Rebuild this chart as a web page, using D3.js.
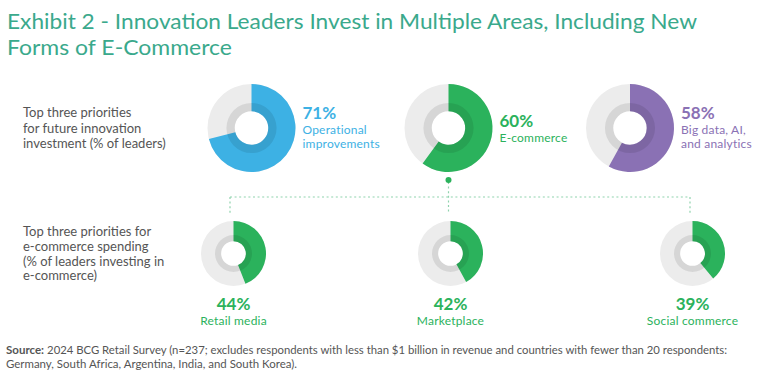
<!DOCTYPE html>
<html>
<head>
<meta charset="utf-8">
<script src="https://cdn.jsdelivr.net/npm/d3@7"></script>
<style>
  html, body { margin: 0; padding: 0; background: #fff; }
  svg { display: block; }
</style>
</head>
<body>
<svg id="chart" width="768" height="381"></svg>
<script>
// ---------- data ----------
const titleLines = [
  "Exhibit 2 - Innovation Leaders Invest in Multiple Areas, Including New",
  "Forms of E-Commerce"
];
const topRowLabel = ["Top three priorities", "for future innovation", "investment (% of leaders)"];
const topCategories = ["Operational improvements", "E-commerce", "Big data, AI, and analytics"];
const topLabelLines = [["Operational", "improvements"], ["E-commerce"], ["Big data, AI,", "and analytics"]];
const topValues = [71, 60, 58];
const topColors = ["#3db1e4", "#2bb25c", "#8a71b4"];

const bottomRowLabel = ["Top three priorities for", "e-commerce spending", "(% of leaders investing in", "e-commerce)"];
const bottomCategories = ["Retail media", "Marketplace", "Social commerce"];
const bottomValues = [44, 42, 39];
const bottomColor = "#2bb25c";

const sourceBold = "Source:";
const sourceLines = [
  "2024 BCG Retail Survey (n=237; excludes respondents with less than $1 billion in revenue and countries with fewer than 20 respondents:",
  "Germany, South Africa, Argentina, India, and South Korea)."
];

// ---------- layout ----------
const FONT = "Lato, 'Noto Sans', sans-serif";
const svg = d3.select("#chart");

const topX = d3.scaleOrdinal().domain(topCategories).range([251.5, 448.5, 630]);
const bottomX = d3.scaleOrdinal().domain(bottomCategories).range([233.5, 450.5, 692.5]);
const topCY = 128, topR = 44;
const botCY = 253.5, botR = 32.5;
const pct = d3.scaleLinear().domain([0, 100]).range([0, 2 * Math.PI]);

// title
svg.append("g").selectAll("text").data(titleLines).join("text")
  .attr("x", 7).attr("y", (d, i) => 29 + i * 26)
  .attr("font-family", FONT).attr("font-size", 22).attr("fill", "#3aa98c")
  .attr("textLength", (d, i) => i === 0 ? 690 : 225)
  .attr("lengthAdjust", "spacingAndGlyphs")
  .text(d => d);

// row labels
svg.append("g").selectAll("text").data(topRowLabel).join("text")
  .attr("x", 23).attr("y", (d, i) => 117 + i * 15.5)
  .attr("font-family", FONT).attr("font-size", 13).attr("fill", "#555")
  .text(d => d);
svg.append("g").selectAll("text").data(bottomRowLabel).join("text")
  .attr("x", 23).attr("y", (d, i) => 236 + i * 14.8)
  .attr("font-family", FONT).attr("font-size", 13).attr("fill", "#555")
  .text(d => d);

function donut(g, value, color, R) {
  const hole = R * 0.38, ring = R * 0.57;
  g.append("path").attr("d", d3.arc()({innerRadius: hole, outerRadius: R, startAngle: 0, endAngle: 2 * Math.PI}))
    .attr("fill", "#ececec");
  g.append("path").attr("d", d3.arc()({innerRadius: hole, outerRadius: R, startAngle: 0, endAngle: pct(value)}))
    .attr("fill", color);
  g.append("path").attr("d", d3.arc()({innerRadius: hole, outerRadius: ring, startAngle: 0, endAngle: 2 * Math.PI}))
    .attr("fill", "#000").attr("fill-opacity", 0.09);
}

// top donuts
topCategories.forEach((c, i) => {
  const g = svg.append("g").attr("transform", `translate(${topX(c)},${topCY})`);
  donut(g, topValues[i], topColors[i], topR);
  const lines = topLabelLines[i];
  const x0 = topX(c) + topR + 7;
  const pctY = lines.length === 2 ? 119 : 127;
  svg.append("text").attr("x", x0).attr("y", pctY)
    .attr("font-family", FONT).attr("font-size", 17).attr("font-weight", 700)
    .attr("fill", topColors[i]).text(topValues[i] + "%");
  lines.forEach((l, j) => {
    svg.append("text").attr("x", x0).attr("y", pctY + 15 + j * 14)
      .attr("font-family", FONT).attr("font-size", 12).attr("fill", topColors[i])
      .attr("letter-spacing", 0.2)
      .text(l);
  });
});

// connectors
const conn = svg.append("g").attr("stroke", "#8fd3ad").attr("stroke-width", 1.2)
  .attr("stroke-dasharray", "2,2.6").attr("fill", "none");
const hubX = topX(topCategories[1]);
const dropX = [230, 449, 690];
conn.append("line").attr("x1", hubX).attr("x2", hubX).attr("y1", 182).attr("y2", 213);
conn.append("line").attr("x1", dropX[0]).attr("x2", dropX[2]).attr("y1", 197).attr("y2", 197);
conn.append("line").attr("x1", dropX[0]).attr("x2", dropX[0]).attr("y1", 197).attr("y2", 213);
conn.append("line").attr("x1", dropX[2]).attr("x2", dropX[2]).attr("y1", 197).attr("y2", 213);
svg.append("circle").attr("cx", hubX).attr("cy", 180).attr("r", 3).attr("fill", bottomColor);

// bottom donuts
bottomCategories.forEach((c, i) => {
  const g = svg.append("g").attr("transform", `translate(${bottomX(c)},${botCY})`);
  donut(g, bottomValues[i], bottomColor, botR);
  svg.append("text").attr("x", bottomX(c)).attr("y", 310).attr("text-anchor", "middle")
    .attr("font-family", FONT).attr("font-size", 17).attr("font-weight", 700)
    .attr("fill", bottomColor).text(bottomValues[i] + "%");
  svg.append("text").attr("x", bottomX(c)).attr("y", 325).attr("text-anchor", "middle")
    .attr("font-family", FONT).attr("font-size", 12).attr("fill", bottomColor)
    .attr("letter-spacing", 0.2)
    .text(c);
});

// source
const sb = svg.append("text").attr("x", 6).attr("y", 354)
  .attr("font-family", FONT).attr("font-size", 11.5).attr("font-weight", 700).attr("fill", "#555")
  .text(sourceBold);
const sbW = sb.node().getComputedTextLength();
svg.append("text").attr("x", 6 + sbW + 3).attr("y", 354)
  .attr("font-family", FONT).attr("font-size", 11.5).attr("fill", "#555")
  .attr("textLength", 727 - (6 + sbW + 3)).attr("lengthAdjust", "spacingAndGlyphs")
  .text(sourceLines[0]);
svg.append("text").attr("x", 6).attr("y", 368)
  .attr("font-family", FONT).attr("font-size", 11.5).attr("fill", "#555")
  .attr("textLength", 291).attr("lengthAdjust", "spacingAndGlyphs")
  .text(sourceLines[1]);
</script>
</body>
</html>
